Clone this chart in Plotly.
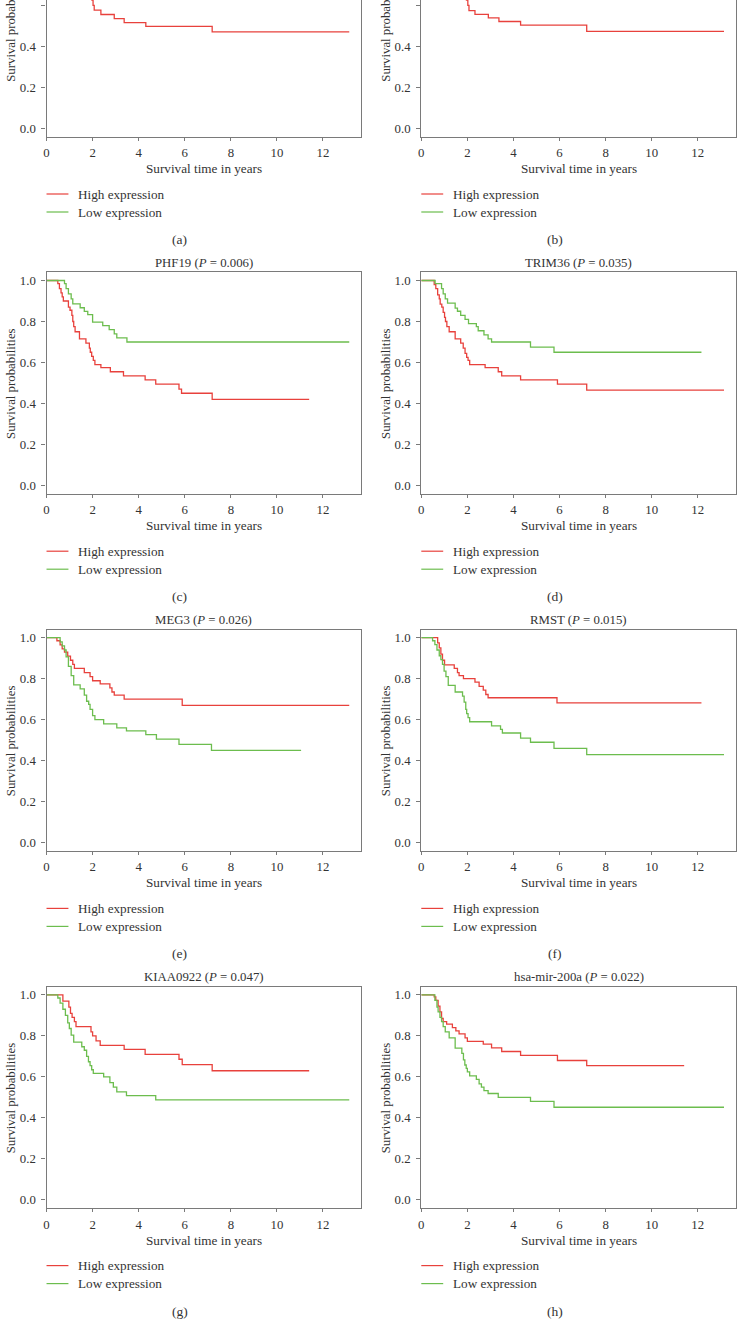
import plotly.graph_objects as go

# ---------------- data ----------------
panel_letters = ["(a)", "(b)", "(c)", "(d)", "(e)", "(f)", "(g)", "(h)"]
gene_names = [None, None, "PHF19", "TRIM36", "MEG3", "RMST", "KIAA0922", "hsa-mir-200a"]
p_values = [None, None, "0.006", "0.035", "0.026", "0.015", "0.047", "0.022"]

# panel (a) (only the lower part is visible)
a_high_t = [1.9, 1.97, 2.02, 2.07, 2.36, 2.94, 3.37, 4.31, 7.19, 13.14]
a_high_s = [0.65, 0.625, 0.6, 0.576, 0.555, 0.535, 0.515, 0.497, 0.47, 0.47]
# panel (b)
b_high_t = [1.9, 1.96, 2.02, 2.07, 2.33, 2.91, 3.37, 4.31, 7.18, 13.14]
b_high_s = [0.65, 0.625, 0.6, 0.574, 0.556, 0.539, 0.521, 0.503, 0.473, 0.473]

# PHF19
phf19_high_t = [0, 0.49, 0.56, 0.63, 0.68, 0.73, 0.95, 1.02, 1.1, 1.14, 1.18, 1.24, 1.43, 1.71,
                1.86, 1.9, 1.96, 2.03, 2.1, 2.36, 2.77, 3.34, 4.28, 4.74, 5.75, 5.86, 7.19, 11.4]
phf19_high_s = [1.0, 0.985, 0.96, 0.94, 0.92, 0.90, 0.87, 0.855, 0.83, 0.80, 0.775, 0.75, 0.715, 0.695,
                0.67, 0.65, 0.63, 0.61, 0.59, 0.575, 0.555, 0.535, 0.515, 0.495, 0.47, 0.45, 0.42, 0.42]
phf19_low_t = [0, 0.78, 0.85, 0.95, 1.07, 1.14, 1.46, 1.64, 1.79, 2.0, 2.44, 2.72, 2.94, 3.05, 3.49, 13.14]
phf19_low_s = [1.0, 0.985, 0.96, 0.935, 0.91, 0.886, 0.867, 0.849, 0.834, 0.797, 0.78, 0.76, 0.74, 0.72, 0.70, 0.70]

# TRIM36
trim36_high_t = [0, 0.56, 0.63, 0.71, 0.78, 0.82, 0.89, 0.95, 1.01, 1.05, 1.11, 1.21, 1.47, 1.71, 1.82,
                 1.9, 1.97, 2.03, 2.1, 2.77, 3.34, 3.49, 4.31, 5.91, 7.18, 13.14]
trim36_high_s = [1.0, 0.98, 0.96, 0.93, 0.91, 0.885, 0.87, 0.845, 0.82, 0.80, 0.775, 0.75, 0.715, 0.695, 0.67,
                 0.645, 0.625, 0.61, 0.59, 0.575, 0.555, 0.535, 0.515, 0.495, 0.465, 0.465]
trim36_low_t = [0, 0.6, 0.88, 0.95, 1.04, 1.14, 1.47, 1.57, 1.71, 1.9, 2.05, 2.39, 2.47, 2.72, 2.9, 3.05,
                4.74, 5.76, 12.16]
trim36_low_s = [1.0, 0.985, 0.96, 0.935, 0.91, 0.89, 0.865, 0.85, 0.83, 0.81, 0.79, 0.775, 0.755, 0.735, 0.715,
                0.70, 0.675, 0.65, 0.65]

# MEG3
meg3_high_t = [0, 0.45, 0.59, 0.68, 0.78, 0.92, 1.04, 1.14, 1.21, 1.64, 1.89, 2.0, 2.33, 2.75, 2.84, 2.94,
               3.37, 5.89, 13.14]
meg3_high_s = [1.0, 0.985, 0.965, 0.945, 0.93, 0.91, 0.89, 0.87, 0.85, 0.83, 0.81, 0.79, 0.775, 0.755, 0.735,
               0.72, 0.70, 0.67, 0.67]
meg3_low_t = [0, 0.59, 0.68, 0.78, 0.85, 0.95, 1.07, 1.18, 1.46, 1.64, 1.74, 1.83, 1.89, 2.0, 2.1, 2.48,
              3.05, 3.47, 4.31, 4.77, 5.75, 7.16, 11.05]
meg3_low_s = [1.0, 0.98, 0.96, 0.94, 0.906, 0.86, 0.815, 0.77, 0.75, 0.72, 0.69, 0.675, 0.65, 0.62, 0.60, 0.58,
              0.56, 0.545, 0.527, 0.505, 0.48, 0.45, 0.45]

# RMST
rmst_high_t = [0, 0.71, 0.78, 0.85, 0.92, 1.01, 1.43, 1.57, 1.64, 1.83, 2.33, 2.51, 2.69, 2.8, 2.9, 5.89, 12.16]
rmst_high_s = [1.0, 0.975, 0.95, 0.92, 0.89, 0.867, 0.85, 0.83, 0.815, 0.80, 0.783, 0.763, 0.744, 0.723, 0.707,
               0.682, 0.682]
rmst_low_t = [0, 0.49, 0.59, 0.68, 0.78, 0.85, 0.92, 0.99, 1.07, 1.17, 1.47, 1.79, 1.86, 1.93, 1.97, 2.03, 2.1,
              3.05, 3.44, 3.52, 4.31, 4.74, 5.76, 7.18, 13.14]
rmst_low_s = [1.0, 0.985, 0.966, 0.94, 0.912, 0.893, 0.87, 0.837, 0.81, 0.767, 0.735, 0.715, 0.686, 0.65, 0.63,
              0.61, 0.59, 0.57, 0.553, 0.535, 0.51, 0.49, 0.46, 0.43, 0.43]

# KIAA0922
kiaa_high_t = [0, 0.71, 0.97, 1.04, 1.11, 1.21, 1.28, 1.93, 2.0, 2.15, 2.33, 3.37, 4.28, 5.75, 5.89, 7.19, 11.4]
kiaa_high_s = [1.0, 0.97, 0.94, 0.91, 0.89, 0.87, 0.845, 0.82, 0.80, 0.776, 0.754, 0.734, 0.71, 0.686, 0.66,
               0.63, 0.63]
kiaa_low_t = [0, 0.49, 0.59, 0.71, 0.82, 0.92, 0.99, 1.07, 1.18, 1.53, 1.64, 1.74, 1.82, 1.89, 1.96, 2.03, 2.48,
              2.75, 2.9, 3.05, 3.47, 4.74, 13.14]
kiaa_low_s = [1.0, 0.985, 0.96, 0.93, 0.9, 0.864, 0.836, 0.804, 0.77, 0.747, 0.73, 0.70, 0.674, 0.655, 0.635,
              0.617, 0.60, 0.572, 0.55, 0.527, 0.509, 0.488, 0.488]

# hsa-mir-200a
mir_high_t = [0, 0.56, 0.63, 0.73, 0.81, 0.88, 0.95, 1.1, 1.35, 1.5, 1.64, 1.9, 2.0, 2.69, 3.05, 3.49, 4.31,
              5.91, 7.18, 11.41]
mir_high_s = [1.0, 0.99, 0.973, 0.945, 0.917, 0.885, 0.87, 0.857, 0.84, 0.825, 0.81, 0.79, 0.773, 0.76, 0.742,
              0.724, 0.705, 0.68, 0.655, 0.655]
mir_low_t = [0, 0.59, 0.68, 0.73, 0.81, 0.88, 0.95, 1.04, 1.21, 1.47, 1.76, 1.83, 1.89, 1.95, 2.0, 2.1, 2.39,
             2.51, 2.61, 2.72, 2.9, 3.34, 4.74, 5.76, 13.14]
mir_low_s = [1.0, 0.973, 0.94, 0.917, 0.89, 0.87, 0.845, 0.82, 0.79, 0.74, 0.715, 0.683, 0.658, 0.642, 0.625,
             0.605, 0.588, 0.566, 0.55, 0.533, 0.519, 0.50, 0.481, 0.452, 0.452]

high_series = [(a_high_t, a_high_s), (b_high_t, b_high_s), (phf19_high_t, phf19_high_s),
               (trim36_high_t, trim36_high_s), (meg3_high_t, meg3_high_s), (rmst_high_t, rmst_high_s),
               (kiaa_high_t, kiaa_high_s), (mir_high_t, mir_high_s)]
low_series = [None, None, (phf19_low_t, phf19_low_s), (trim36_low_t, trim36_low_s),
              (meg3_low_t, meg3_low_s), (rmst_low_t, rmst_low_s), (kiaa_low_t, kiaa_low_s),
              (mir_low_t, mir_low_s)]

series_names = ["High expression", "Low expression"]
x_ticks = [0, 2, 4, 6, 8, 10, 12]
y_ticks = [0.0, 0.2, 0.4, 0.6, 0.8, 1.0]

# ---------------- layout geometry (pixels) ----------------
W, H = 737, 1330
RED = "#e8413c"
GREEN = "#6cbd4e"
AXIS = "#7a7a7a"
TXT = "#333333"
FONT = "Liberation Serif"

col_left = [43.7, 420.0]
col_right = [359.7, 736.0]
row_top = [-84.9, 272.3, 629.5, 986.7]
box_h = 221.4
y_lo, y_hi = -0.04, 1.04
x_max = 13.66


def fx(px):
    return px / W


def fy(py):
    return 1 - py / H


fig = go.Figure()
annotations = []
shapes = []

for i in range(8):
    r, c = divmod(i, 2)
    k = i + 1
    xa = "xaxis" if k == 1 else f"xaxis{k}"
    ya = "yaxis" if k == 1 else f"yaxis{k}"
    xr = "x" if k == 1 else f"x{k}"
    yr = "y" if k == 1 else f"y{k}"

    top = row_top[r]
    bottom = top + box_h
    vis_top = max(top, 0.0)
    per_px = (y_hi - y_lo) / box_h
    yr_hi = y_hi - (vis_top - top) * per_px

    left, right = col_left[c], col_right[c]

    fig.update_layout(**{
        xa: dict(domain=[fx(left), fx(right)], range=[0, x_max], anchor=yr,
                 tickvals=x_ticks, ticks="outside", ticklen=3, tickcolor=AXIS,
                 ticklabelstandoff=1,
                 showline=True, linecolor=AXIS, linewidth=1.3, mirror=(top >= 0),
                 showgrid=False, zeroline=False,
                 tickfont=dict(family=FONT, size=12.8, color=TXT)),
        ya: dict(domain=[fy(bottom), fy(vis_top)], range=[y_lo, yr_hi], anchor=xr,
                 tickvals=y_ticks, tickformat=".1f", ticks="outside", ticklen=4, tickcolor=AXIS,
                 ticklabelstandoff=3,
                 showline=True, linecolor=AXIS, linewidth=1.3, mirror=True,
                 showgrid=False, zeroline=False,
                 tickfont=dict(family=FONT, size=12.8, color=TXT)),
    })

    ht, hs = high_series[i]
    fig.add_trace(go.Scatter(x=ht, y=hs, mode="lines", line=dict(color=RED, width=1.3, shape="hv"),
                             name=series_names[0], showlegend=False, xaxis=xr, yaxis=yr))
    if low_series[i] is not None:
        lt, ls = low_series[i]
        fig.add_trace(go.Scatter(x=lt, y=ls, mode="lines", line=dict(color=GREEN, width=1.3, shape="hv"),
                                 name=series_names[1], showlegend=False, xaxis=xr, yaxis=yr))

    cx = (left + right) / 2
    # gene title
    if gene_names[i] is not None:
        annotations.append(dict(x=fx(cx), y=fy(top - 9.6), xref="paper", yref="paper",
                                text=f"{gene_names[i]} (<i>P</i> = {p_values[i]})", showarrow=False,
                                xanchor="center", yanchor="middle",
                                font=dict(family=FONT, size=12.8, color=TXT)))
    # y axis title
    yt_x = 8.0 if c == 0 else 384.5
    annotations.append(dict(x=fx(yt_x), y=fy(top + box_h / 2), xref="paper", yref="paper",
                            text="Survival probabilities", textangle=-90, showarrow=False,
                            xanchor="center", yanchor="middle",
                            font=dict(family=FONT, size=12.8, color=TXT)))
    # x axis title
    annotations.append(dict(x=fx(cx), y=fy(bottom + 32), xref="paper", yref="paper",
                            text="Survival time in years", showarrow=False,
                            xanchor="center", yanchor="middle",
                            font=dict(family=FONT, size=13.2, color=TXT)))
    # legend (line samples + text)
    for j, (name, col) in enumerate(zip(series_names, [RED, GREEN])):
        ly = bottom + 57.5 + 18 * j
        shapes.append(dict(type="line", xref="paper", yref="paper",
                           x0=fx(left), x1=fx(left + 22), y0=fy(ly), y1=fy(ly),
                           line=dict(color=col, width=1.2)))
        annotations.append(dict(x=fx(left + 30), y=fy(ly), xref="paper", yref="paper",
                                text=name, showarrow=False, xanchor="left", yanchor="middle",
                                font=dict(family=FONT, size=13.2, color=TXT)))
    # panel letter
    lx = 177.7 if c == 0 else 554.7
    annotations.append(dict(x=fx(lx), y=fy(bottom + 103), xref="paper", yref="paper",
                            text=panel_letters[i], showarrow=False, xanchor="center", yanchor="middle",
                            font=dict(family=FONT, size=13.5, color=TXT)))

fig.update_layout(width=W, height=H, autosize=False,
                  margin=dict(l=0, r=0, t=0, b=0, pad=0),
                  paper_bgcolor="white", plot_bgcolor="white",
                  showlegend=False, annotations=annotations, shapes=shapes,
                  font=dict(family=FONT, color=TXT))

fig.write_html("out.html", config={"displayModeBar": False},
               post_script="document.body.style.margin='0';document.body.style.padding='0';"
                           "document.body.style.overflow='hidden';")
